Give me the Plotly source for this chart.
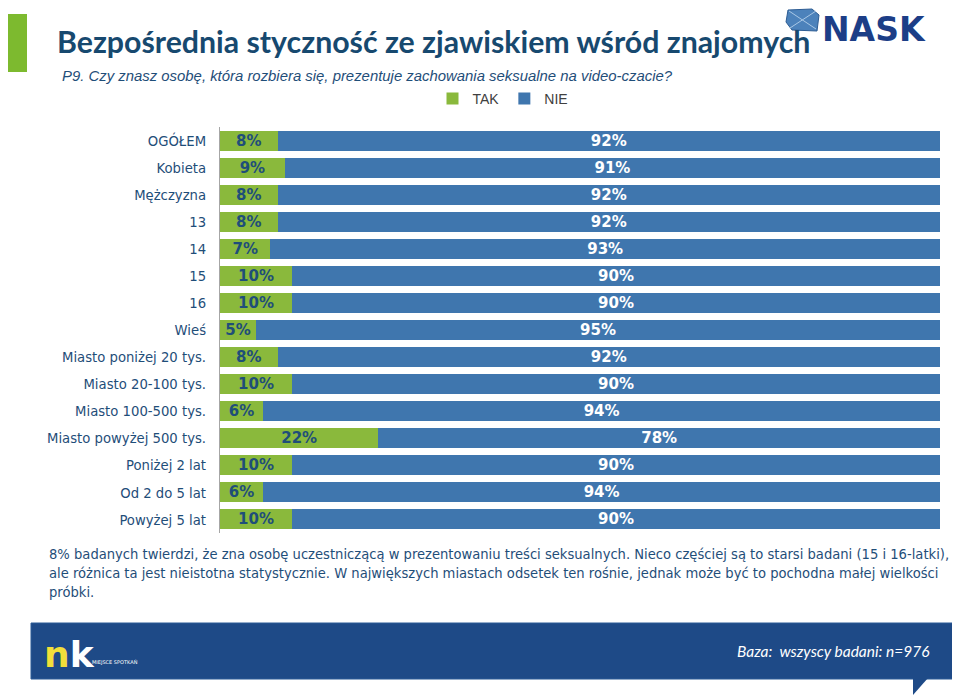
import plotly.graph_objects as go

categories = ["OGÓŁEM", "Kobieta", "Mężczyzna", "13", "14", "15", "16", "Wieś",
              "Miasto poniżej 20 tys.", "Miasto 20-100 tys.", "Miasto 100-500 tys.",
              "Miasto powyżej 500 tys.", "Poniżej 2 lat", "Od 2 do 5 lat", "Powyżej 5 lat"]
tak = [8, 9, 8, 8, 7, 10, 10, 5, 8, 10, 6, 22, 10, 6, 10]
nie = [92, 91, 92, 92, 93, 90, 90, 95, 92, 90, 94, 78, 90, 94, 90]

OFF = 8  # page body margin
W, H = 960 - OFF, 699 - OFF
GREEN = "#8AB93C"
BLUE = "#3F76AE"
NAVY = "#1F4E79"

def px(x):
    return (x - OFF) / W

def py(y):
    return 1 - (y - OFF) / H

fig = go.Figure()
fig.add_trace(go.Bar(
    y=categories, x=tak, name="TAK", orientation="h",
    marker=dict(color=GREEN, line=dict(width=0)),
    text=[f"{v}%" for v in tak], textposition="inside", insidetextanchor="middle",
    textfont=dict(family="DejaVu Sans", size=15, color=NAVY, weight="bold"),
    constraintext="none", hoverinfo="skip",
))
fig.add_trace(go.Bar(
    y=categories, x=nie, name="NIE", orientation="h",
    marker=dict(color=BLUE, line=dict(width=0)),
    text=[f"{v}%" for v in nie], textposition="inside", insidetextanchor="middle",
    textfont=dict(family="DejaVu Sans", size=15, color="white", weight="bold"),
    constraintext="none", hoverinfo="skip",
))

fig.update_layout(
    width=W, height=H, barmode="stack", bargap=0.26,
    margin=dict(l=0, r=0, t=0, b=0, autoexpand=False),
    paper_bgcolor="white", plot_bgcolor="white",
    showlegend=True,
    legend=dict(orientation="h", x=px(503), xanchor="center", y=py(99), yanchor="middle",
                font=dict(family="Liberation Sans", size=14, color="#404040"),
                itemwidth=30, traceorder="normal", bgcolor="rgba(0,0,0,0)"),
    xaxis=dict(domain=[px(220), px(940)], range=[0, 100], visible=False, fixedrange=True,
               automargin=False),
    yaxis=dict(domain=[py(533), py(127)], autorange="reversed", showline=True,
               linecolor="#A6A6A6", linewidth=1, ticks="", showgrid=False, automargin=False,
               tickfont=dict(family="DejaVu Sans Condensed", size=14.7, color=NAVY),
               ticklabelstandoff=10),
    font=dict(family="DejaVu Sans"),
)

shapes = []
# left green accent
shapes.append(dict(type="rect", xref="paper", yref="paper", x0=px(8), x1=px(27), y0=py(72), y1=py(14),
                   fillcolor="#7DBA2F", line=dict(width=0)))
# NASK icon
shapes.append(dict(type="path", xref="paper", yref="paper",
                   path=f"M {px(788)},{py(10)} L {px(812)},{py(9)} L {px(819)},{py(15)} L {px(817)},{py(31)} L {px(792)},{py(30)} L {px(786)},{py(22)} Z",
                   fillcolor="#4C82BB", line=dict(width=1, color="#2D5C93")))
shapes.append(dict(type="line", xref="paper", yref="paper", x0=px(789), y0=py(11), x1=px(816), y1=py(29),
                   line=dict(color="#A9C8E6", width=1)))
shapes.append(dict(type="line", xref="paper", yref="paper", x0=px(816), y0=py(11), x1=px(790), y1=py(28),
                   line=dict(color="#A9C8E6", width=1)))
# footer banner
shapes.append(dict(type="rect", xref="paper", yref="paper", x0=px(31), x1=px(955), y0=py(679), y1=py(623),
                   fillcolor="#1E4A87", line=dict(width=1, color="#2B5A96")))
shapes.append(dict(type="path", xref="paper", yref="paper",
                   path=f"M {px(913)},{py(678)} L {px(913)},{py(695)} L {px(928)},{py(678)} Z",
                   fillcolor="#1E4A87", line=dict(width=0)))
fig.update_layout(shapes=shapes)

def ann(text, x, y, xanchor="left", yanchor="middle", **font):
    return dict(text=text, x=px(x), y=py(y), xref="paper", yref="paper", xanchor=xanchor,
                yanchor=yanchor, showarrow=False, align="left", font=font)

annotations = [
    ann("<b>Bezpośrednia styczność ze zjawiskiem wśród znajomych</b>", 55, 41,
        family="Lato", size=30.3, color="#17496F"),
    ann("<i>P9. Czy znasz osobę, która rozbiera się, prezentuje zachowania seksualne na video-czacie?</i>",
        60, 76, family="Liberation Sans", size=14.9, color=NAVY),
    ann("<b>NASK</b>", 820, 8, yanchor="top", family="DejaVu Sans", size=33, color="#1C3E87"),
    ann(("8% badanych twierdzi, że zna osobę uczestniczącą w prezentowaniu treści seksualnych. "
         "Nieco częściej są to starsi badani (15 i 16-latki),<br>"
         "ale różnica ta jest nieistotna statystycznie. W największych miastach odsetek ten rośnie, "
         "jednak może być to pochodna małej wielkości<br>próbki."),
        47, 543, yanchor="top", family="DejaVu Sans Condensed", size=14.6, color=NAVY),
    ann("<b><span style='color:#F2DF3A'>n</span>k</b>", 42, 654,
        family="DejaVu Sans", size=36, color="white"),
    ann("MIEJSCE SPOTKAŃ", 90, 662, family="DejaVu Sans", size=5, color="white"),
    ann("<i>Baza:  wszyscy badani: n=976</i>", 931, 651, xanchor="right",
        family="Lato", size=15.5, color="white"),
]
fig.update_layout(annotations=annotations)

fig.write_html("out.html")
